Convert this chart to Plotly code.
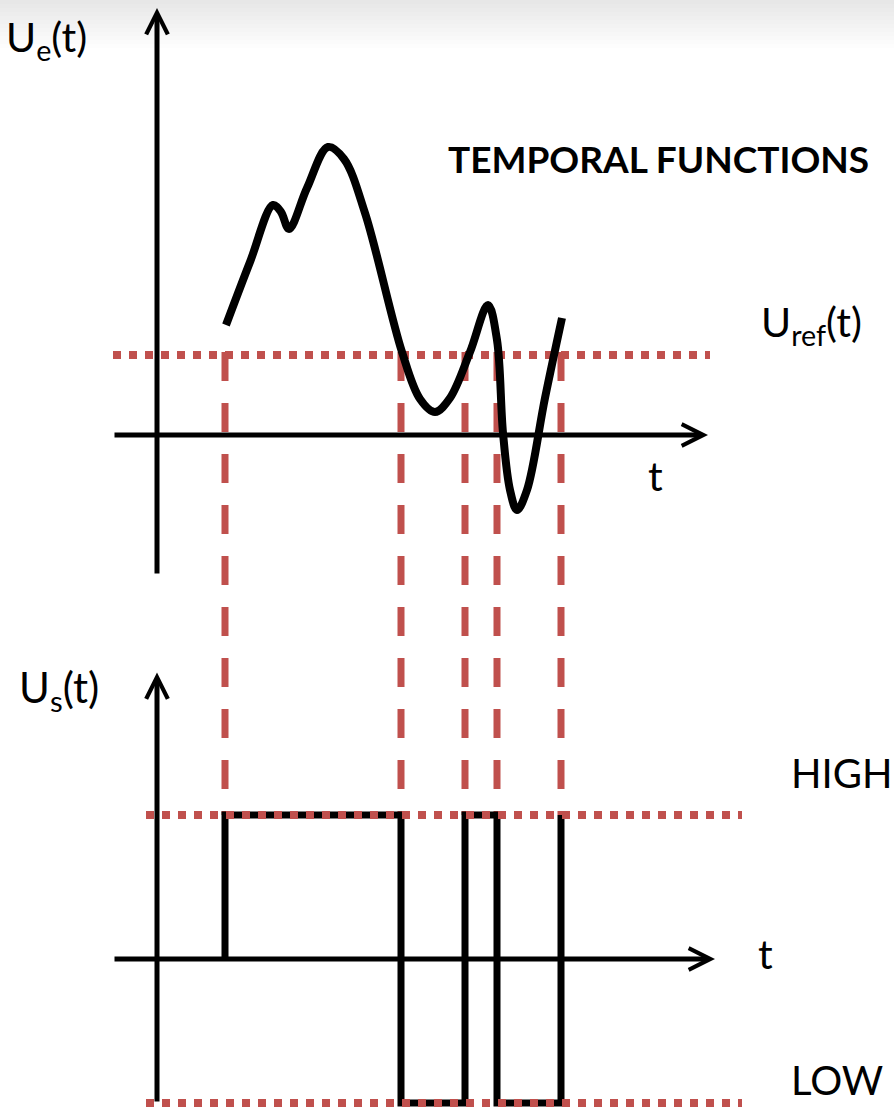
import plotly.graph_objects as go

# ---------------------------------------------------------------- data
# input signal U_e(t), sampled along the drawn curve
t_in = [0.69, 0.93, 1.16, 1.24, 1.32, 1.50, 1.71, 1.87, 2.08, 2.45,
        2.63, 2.78, 2.93, 3.13, 3.31, 3.40, 3.46, 3.53, 3.60, 3.70, 3.88, 4.05]
u_in = [1.10, 1.73, 2.30, 2.23, 2.06, 2.47, 2.88, 2.76, 2.22, 0.83,
        0.36, 0.23, 0.37, 0.83, 1.30, 0.95, 0.02, -0.55, -0.75, -0.55, 0.37, 1.17]

# reference threshold U_ref(t)
u_ref = 0.80

# comparator output U_s(t): switching instants and the level after each one
t_switch = [0.68, 2.44, 3.08, 3.40, 4.04]
level_high = 1.0
level_low = -1.0
levels_out = [level_high, level_low, level_high, level_low, level_high]

# --------------------------------------------------------------- geometry
W, H = 894, 1108
T0_PX, PX_PER_T = 157, 100       # t = 0 column and horizontal scale
UE0_PX, PX_PER_UE = 435, 100     # U_e = 0 row and scale (upper diagram)
US0_PX, PX_PER_US = 959, 144     # U_s = 0 row and scale (lower diagram)

RED = "#C0504D"
BLACK = "#000000"
FONT = "Lato"

x_range = [-T0_PX / PX_PER_T, (W - T0_PX) / PX_PER_T]
y_range = [(UE0_PX - H) / PX_PER_UE, UE0_PX / PX_PER_UE]
y2_range = [(US0_PX - H) / PX_PER_US, US0_PX / PX_PER_US]


def us_to_ue(v):
    """Express a U_s value in the units of the upper (U_e) axis."""
    row = US0_PX - v * PX_PER_US
    return (UE0_PX - row) / PX_PER_UE


# extents of the drawn axes (axis units)
top_t_axis = (-0.44, 5.51)
top_u_axis = (-1.40, 4.27)
bot_t_axis = (-0.44, 5.58)
bot_u_axis = (-1.00, 1.99)
ref_span = (-0.44, 5.53)
level_span = (-0.11, 5.85)

fig = go.Figure()

# threshold line
fig.add_trace(go.Scatter(
    x=list(ref_span), y=[u_ref, u_ref], mode="lines", yaxis="y",
    line=dict(color=RED, width=8, dash="dot"), hoverinfo="skip"))

# projection lines from each threshold crossing down to the output diagram
for ts in t_switch:
    fig.add_trace(go.Scatter(
        x=[ts, ts], y=[u_ref + 0.03, us_to_ue(level_high)], mode="lines",
        yaxis="y", line=dict(color=RED, width=7, dash="29px,22px"),
        hoverinfo="skip"))

# input signal
fig.add_trace(go.Scatter(
    x=t_in, y=u_in, mode="lines", yaxis="y",
    line=dict(color=BLACK, width=8, shape="spline", smoothing=1.0),
    hoverinfo="skip"))

# comparator output (square wave)
fig.add_trace(go.Scatter(
    x=[t_switch[0]] + t_switch, y=[0.0] + levels_out, mode="lines", yaxis="y2",
    line=dict(color=BLACK, width=7, shape="hv"), hoverinfo="skip"))

# HIGH / LOW levels
for lv in (level_high, level_low):
    fig.add_trace(go.Scatter(
        x=list(level_span), y=[lv, lv], mode="lines", yaxis="y2",
        line=dict(color=RED, width=8, dash="dot"), hoverinfo="skip"))

annotations = []


def axis_arrow(x0, y0, x1, y1, yref):
    annotations.append(dict(
        x=x1, y=y1, ax=x0, ay=y0, xref="x", yref=yref, axref="x", ayref=yref,
        text="", showarrow=True, arrowhead=5, arrowsize=0.85, arrowwidth=5,
        arrowcolor=BLACK, font=dict(size=1), standoff=0, startstandoff=0))


# upper diagram axes
axis_arrow(0, top_u_axis[0], 0, top_u_axis[1], "y")
axis_arrow(top_t_axis[0], 0, top_t_axis[1], 0, "y")
# lower diagram axes
axis_arrow(0, bot_u_axis[0], 0, bot_u_axis[1], "y2")
axis_arrow(bot_t_axis[0], 0, bot_t_axis[1], 0, "y2")


def label(text, px, py, anchor="left", size=40, bold=False):
    annotations.append(dict(
        x=px / W, y=1 - py / H, xref="paper", yref="paper", text=text,
        showarrow=False, xanchor=anchor, yanchor="middle",
        font=dict(family=FONT, size=size, color=BLACK,
                  weight="bold" if bold else "normal")))


label("U<sub>e</sub>(t)", 4, 40, size=41)
label("TEMPORAL FUNCTIONS", 446, 158, size=37, bold=True)
label("U<sub>ref</sub>(t)", 759, 325, size=41)
label("t", 655, 475, anchor="center", size=41)
label("U<sub>s</sub>(t)", 17, 690, size=42)
label("HIGH", 789, 773)
label("t", 765, 953, anchor="center", size=41)
label("LOW", 789, 1080)

# soft grey shading along the top edge
shapes = []
for k in range(1, 13):
    shapes.append(dict(
        type="rect", xref="paper", yref="paper", x0=0, x1=1,
        y0=1 - (k * 4) / H, y1=1, line=dict(width=0),
        fillcolor="rgba(0,0,0,0.008)", layer="below"))

fig.update_layout(
    width=W, height=H, autosize=False,
    margin=dict(l=0, r=0, t=0, b=0),
    paper_bgcolor="white", plot_bgcolor="white",
    showlegend=False,
    xaxis=dict(range=x_range, visible=False, fixedrange=True),
    yaxis=dict(range=y_range, visible=False, fixedrange=True),
    yaxis2=dict(range=y2_range, visible=False, overlaying="y",
                fixedrange=True),
    annotations=annotations,
    shapes=shapes,
)

fig.write_html("out.html", config={"displayModeBar": False})
